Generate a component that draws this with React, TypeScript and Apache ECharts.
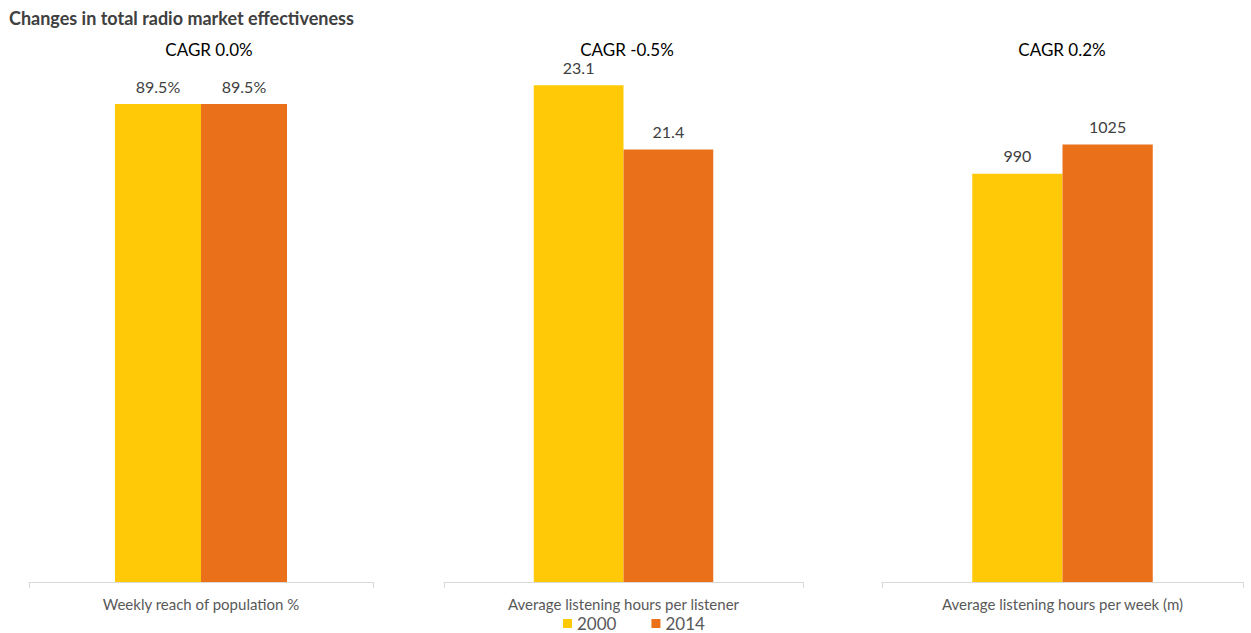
import React, { useEffect, useRef } from "react";
import * as echarts from "echarts";

// Three metrics, each compared between 2000 and 2014
const categories = [
  "Weekly reach of population %",
  "Average listening hours per listener",
  "Average listening hours per week (m)",
];
const years = ["2000", "2014"];
const values2000 = [89.5, 23.1, 990];
const values2014 = [89.5, 21.4, 1025];
const cagrLabels = ["CAGR 0.0%", "CAGR -0.5%", "CAGR 0.2%"];
const valueSuffix = ["%", "", ""];

// Each panel has its own value scale
const axisMin = [0, 10, 500];
const axisMax = [100, 24, 1100];

const COLORS = ["#FFC907", "#EA7019"];
const FONT = "Lato";

// Panel geometry (px)
const panels = [
  { left: 29, width: 344, top: 48, cagrX: 209 },
  { left: 444, width: 359, top: 51, cagrX: 627 },
  { left: 882, width: 361, top: 82, cagrX: 1062 },
];

export default function App() {
  const ref = useRef<HTMLDivElement>(null);

  useEffect(() => {
    if (!ref.current) return;
    const chart = echarts.init(ref.current, undefined, { renderer: "svg" });

    const grid = panels.map((p) => ({
      left: p.left,
      width: p.width,
      top: p.top,
      bottom: 51,
      containLabel: false,
    }));

    const xAxis = panels.map((_, i) => ({
      type: "category" as const,
      gridIndex: i,
      data: [categories[i]],
      axisLine: { lineStyle: { color: "#D9D9D9", width: 1 } },
      axisTick: { show: true, length: 6, lineStyle: { color: "#D9D9D9" } },
      axisLabel: { color: "#595959", fontSize: 15, fontFamily: FONT, margin: 14 },
    }));

    const yAxis = panels.map((_, i) => ({
      type: "value" as const,
      gridIndex: i,
      min: axisMin[i],
      max: axisMax[i],
      show: false,
      splitLine: { show: false },
    }));

    const series: any[] = [];
    panels.forEach((_, i) => {
      [values2000, values2014].forEach((vals, s) => {
        series.push({
          type: "bar",
          name: years[s],
          xAxisIndex: i,
          yAxisIndex: i,
          data: [vals[i]],
          barWidth: "25%",
          barGap: "0%",
          itemStyle: { color: COLORS[s] },
          label: {
            show: true,
            position: "top",
            distance: 10,
            color: "#404040",
            fontSize: 16,
            fontFamily: FONT,
            formatter: (p: any) => `${p.value}${valueSuffix[i]}`,
          },
        });
      });
    });

    chart.setOption({
      animation: false,
      color: COLORS,
      grid,
      xAxis,
      yAxis,
      series,
      legend: {
        data: years,
        top: 615,
        left: 563,
        itemWidth: 9,
        itemHeight: 9,
        itemGap: 35,
        padding: 0,
        icon: "rect",
        textStyle: { color: "#595959", fontSize: 17, fontFamily: FONT, padding: [0, 0, 0, 0] },
      },
      graphic: [
        {
          type: "text",
          left: 9,
          top: 9,
          style: {
            text: "Changes in total radio market effectiveness",
            fill: "#404040",
            font: `bold 18px ${FONT}`,
          },
        },
        ...panels.map((p, i) => ({
          type: "text",
          x: p.cagrX,
          y: 49,
          style: {
            text: cagrLabels[i],
            fill: "#000000",
            font: `17px ${FONT}`,
            textAlign: "center",
            textVerticalAlign: "middle",
          },
        })),
      ],
    });

    return () => chart.dispose();
  }, []);

  return (
    <div
      ref={ref}
      style={{ position: "absolute", left: 0, top: 0, width: 1251, height: 633 }}
    />
  );
}
